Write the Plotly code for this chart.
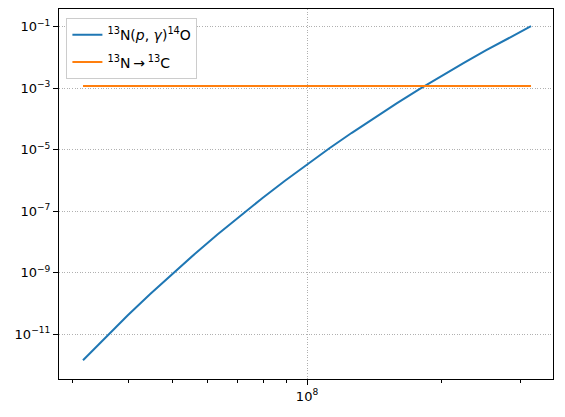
import plotly.graph_objects as go

# temperature grid (K)
temps = [3.162e7, 3.548e7, 3.981e7, 4.467e7, 5.012e7, 5.623e7, 6.310e7,
         7.079e7, 7.943e7, 8.913e7, 1.000e8, 1.122e8, 1.259e8, 1.413e8,
         1.585e8, 1.778e8, 1.995e8, 2.239e8, 2.512e8, 2.818e8, 3.162e8]

# 13N(p,gamma)14O rate per nucleus (1/s)
rate_pg = [1.411e-12, 7.816e-12, 4.083e-11, 2.014e-10, 9.376e-10, 4.130e-9,
           1.734e-8, 6.902e-8, 2.624e-7, 9.528e-7, 3.304e-6, 1.099e-5,
           3.508e-5, 1.076e-4, 3.177e-4, 9.057e-4, 2.489e-3, 6.607e-3,
           1.698e-2, 4.227e-2, 1.023e-1]

# 13N beta decay rate (1/s)
rate_decay = [1.159e-3] * len(temps)

y_ticks = [1e-11, 1e-9, 1e-7, 1e-5, 1e-3, 1e-1]
y_labels = ["10<sup>\u221211</sup>", "10<sup>\u22129</sup>", "10<sup>\u22127</sup>",
            "10<sup>\u22125</sup>", "10<sup>\u22123</sup>", "10<sup>\u22121</sup>"]
x_ticks = [1e8]
x_labels = ["10<sup>8</sup>"]
x_minor = [3e7, 4e7, 5e7, 6e7, 7e7, 8e7, 9e7, 2e8, 3e8]

fig = go.Figure()
fig.add_trace(go.Scatter(x=temps, y=rate_pg, mode="lines", legendgroup="a",
                         line=dict(color="#1f77b4", width=2),
                         name="<sup>13</sup>N(<i>p</i>, <i>\u03b3</i>)<sup>14</sup>O"))
fig.add_trace(go.Scatter(x=temps, y=rate_decay, mode="lines", legendgroup="b",
                         line=dict(color="#ff7f0e", width=2),
                         name="<sup>13</sup>N\u2009\u2192\u2009<sup>13</sup>C"))

axis_common = dict(showline=True, linecolor="black", linewidth=1.1, mirror=True,
                   ticks="outside", ticklen=5, tickwidth=1.1, tickcolor="black",
                   showgrid=True, gridcolor="#b0b0b0", griddash="1px,1.6px", gridwidth=0.8,
                   zeroline=False, automargin=False,
                   tickfont=dict(size=13, color="black"))

fig.update_xaxes(type="log", range=[7.4464, 8.549], tickvals=x_ticks, ticktext=x_labels,
                 minor=dict(tickvals=x_minor, ticks="outside", ticklen=3, tickwidth=0.8,
                            tickcolor="black", showgrid=False),
                 **axis_common)
fig.update_yaxes(type="log", range=[-12.46, -0.43], tickvals=y_ticks, ticktext=y_labels,
                 **axis_common)

# page body adds an 8px margin, so the figure is shrunk to fit the window
fig.update_layout(
    width=557, height=409,
    margin=dict(l=51, r=12, t=1, b=38),
    plot_bgcolor="white", paper_bgcolor="white",
    font=dict(family="DejaVu Sans", size=14, color="black"),
    showlegend=True,
    legend=dict(x=0.015, y=0.975, xanchor="left", yanchor="top",
                bgcolor="white", bordercolor="#cccccc", borderwidth=1,
                font=dict(size=14), tracegroupgap=6),
)

fig.write_html("out.html")
